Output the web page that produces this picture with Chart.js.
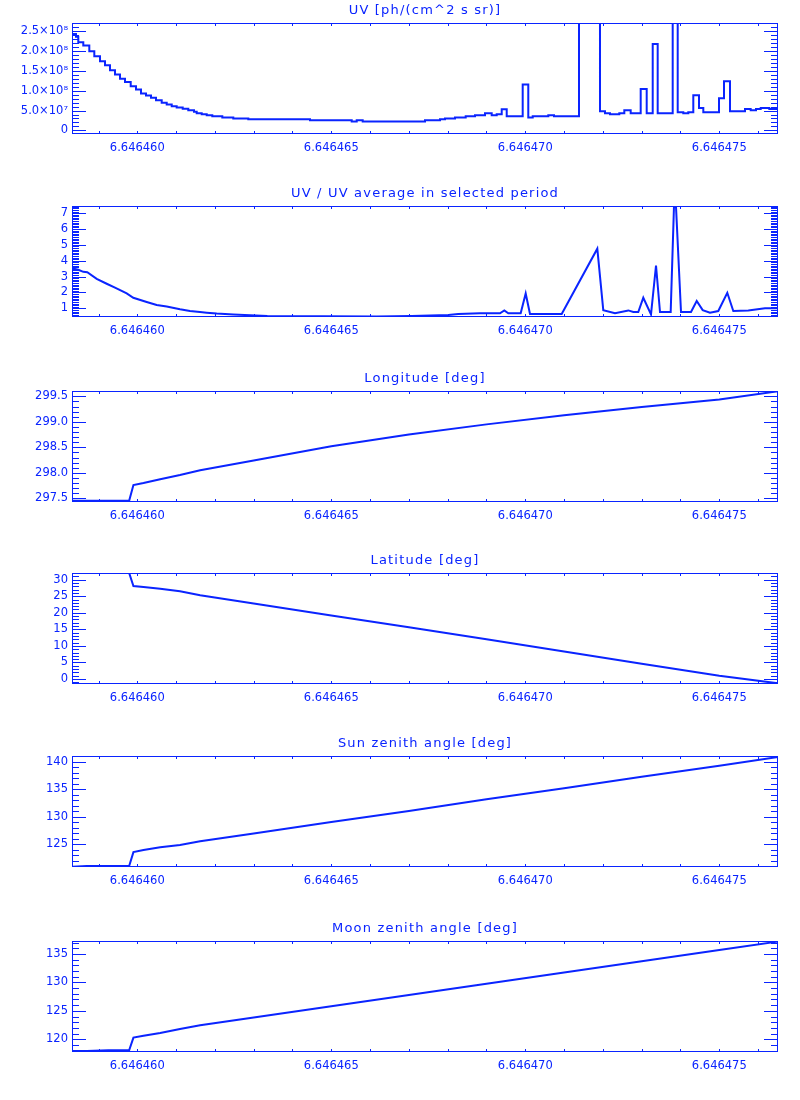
<!DOCTYPE html>
<html>
<head>
<meta charset="utf-8">
<script src="https://cdn.jsdelivr.net/npm/chart.js@4.4.0/dist/chart.umd.min.js"></script>
<style>
  body { margin: 0; background: #fff; }
  #wrap { position: relative; width: 800px; height: 1100px; overflow: hidden; }
  #wrap canvas { position: absolute; left: 0; }
</style>
</head>
<body>
<div id="wrap"></div>
<script>
const BLUE = '#0a24ff';
const FONT = 'DejaVu Sans';

// ── time axis: values are (t - 6.646) * 1e6 ──
const T_MIN = 458.317, T_MAX = 476.513;
const T_TICKS = [460, 465, 470, 475];

// UV (histogram steps, value holds until next time)
const UV_T = [
  458.335, 458.420, 458.479, 458.608, 458.763, 458.892, 459.039, 459.168, 459.296, 459.425,
  459.554, 459.683, 459.830, 459.966, 460.095, 460.224, 460.353, 460.482, 460.629, 460.758,
  460.887, 461.015, 461.170, 461.314, 461.461, 461.531, 461.660, 461.789, 461.933, 462.191,
  462.474, 462.861, 464.451, 465.526, 465.655, 465.809, 467.415, 467.802, 467.930, 468.188,
  468.464, 468.704, 468.961, 469.134, 469.263, 469.392, 469.521, 469.933, 470.077, 470.191,
  470.593, 470.740, 471.384, 471.925, 472.054, 472.183, 472.423, 472.552, 472.716, 472.974,
  473.129, 473.284, 473.412, 473.799, 473.928, 474.072, 474.201, 474.330, 474.477, 474.588,
  474.992, 475.121, 475.276, 475.662, 475.809, 475.946, 476.067, 476.289, 476.521
];
const UV = [
  2.43e8, 2.36e8, 2.22e8, 2.14e8, 1.995e8, 1.87e8, 1.74e8, 1.64e8, 1.515e8, 1.41e8,
  1.30e8, 1.22e8, 1.11e8, 1.03e8, 9.3e7, 8.8e7, 8.2e7, 7.6e7, 7.0e7, 6.5e7,
  6.06e7, 5.8e7, 5.45e7, 5.05e7, 4.7e7, 4.3e7, 4.04e7, 3.8e7, 3.54e7, 3.28e7,
  3.03e7, 2.78e7, 2.53e7, 2.27e7, 2.53e7, 2.27e7, 2.53e7, 2.78e7, 3.03e7, 3.28e7,
  3.54e7, 3.8e7, 4.3e7, 3.8e7, 4.04e7, 5.3e7, 3.54e7, 1.16e8, 3.28e7, 3.54e7,
  3.8e7, 3.54e7, 3.2e8, 4.8e7, 4.3e7, 4.04e7, 4.3e7, 5.05e7, 4.3e7, 1.045e8,
  4.3e7, 2.18e8, 4.3e7, 3.2e8, 4.55e7, 4.3e7, 4.55e7, 8.84e7, 5.65e7, 4.55e7,
  8.08e7, 1.24e8, 4.8e7, 5.4e7, 5.05e7, 5.4e7, 5.65e7, 5.4e7, 5.4e7
];
const UV_TICKS  = [0, 5e7, 1e8, 1.5e8, 2e8, 2.5e8];
const UV_LABELS = ['0', '5.0×10⁷', '1.0×10⁸', '1.5×10⁸', '2.0×10⁸', '2.5×10⁸'];

// UV / average
const RATIO_T = [
  458.335, 458.479, 458.608, 458.711, 458.954, 459.211, 459.425, 459.727, 459.897, 460.242,
  460.500, 460.758, 461.101, 461.358, 461.616, 461.789, 462.046, 462.474, 463.351, 466.170,
  467.072, 468.015, 468.273, 468.832, 469.348, 469.459, 469.562, 469.881, 470.010, 470.121,
  470.938, 471.856, 472.010, 472.312, 472.655, 472.784, 472.912, 473.041, 473.240, 473.369,
  473.472, 473.747, 473.832, 473.884, 474.013, 474.271, 474.418, 474.572, 474.760, 474.974,
  475.206, 475.361, 475.747, 476.178, 476.521
];
const RATIO = [
  3.51, 3.43, 3.30, 3.28, 2.86, 2.55, 2.30, 1.94, 1.67, 1.40,
  1.21, 1.11, 0.94, 0.83, 0.77, 0.73, 0.67, 0.61, 0.52, 0.48,
  0.52, 0.58, 0.64, 0.69, 0.69, 0.87, 0.69, 0.69, 1.94, 0.64,
  0.64, 4.76, 0.89, 0.69, 0.87, 0.77, 0.77, 1.67, 0.62, 3.70,
  0.77, 0.77, 7.41, 7.41, 0.77, 0.77, 1.46, 0.89, 0.73, 0.83,
  1.98, 0.83, 0.87, 1.00, 1.00
];
const RATIO_TICKS = [1, 2, 3, 4, 5, 6, 7];

// orbit track
const GEO_T = [458.33, 458.70, 459.25, 459.79, 459.90, 460.16, 460.59, 461.10, 461.62,
               463.0, 465.0, 467.0, 469.0, 471.0, 473.0, 475.0, 476.52];
const LON = [297.45, 297.45, 297.45, 297.45, 297.76, 297.80, 297.875, 297.955, 298.05,
             298.24, 298.52, 298.75, 298.95, 299.13, 299.29, 299.44, 299.60];
const LAT = [32.0, 32.0, 32.0, 32.0, 28.07, 27.77, 27.28, 26.47, 25.27,
             22.8, 19.2, 15.6, 12.0, 8.3, 4.6, 1.0, -1.3];
const SZA = [120.95, 121.08, 121.08, 121.08, 123.61, 124.0, 124.5, 124.9, 125.6,
             127.0, 129.07, 131.1, 133.2, 135.2, 137.3, 139.3, 140.9];
const MZA = [117.93, 117.93, 118.05, 118.05, 120.28, 120.6, 121.1, 121.8, 122.48,
             123.84, 125.82, 127.8, 129.77, 131.75, 133.72, 135.7, 137.2];
const LON_TICKS = [297.5, 298.0, 298.5, 299.0, 299.5];
const LAT_TICKS = [0, 5, 10, 15, 20, 25, 30];
const SZA_TICKS = [125, 130, 135, 140];
const MZA_TICKS = [120, 125, 130, 135];

const panels = [
  { title: 'UV [ph/(cm^2 s sr)]', t: UV_T, v: UV, stepped: true, min: -9.07e6, max: 2.707e8,
    ticks: UV_TICKS, fmt: (v, i) => UV_LABELS[i], minor: 1e7, top: 0 },
  { title: 'UV / UV average in selected period', t: RATIO_T, v: RATIO, min: 0.455, max: 7.45,
    ticks: RATIO_TICKS, fmt: v => String(v), minor: 0.1, top: 183 },
  { title: 'Longitude [deg]', t: GEO_T, v: LON, min: 297.427, max: 299.605,
    ticks: LON_TICKS, fmt: v => v.toFixed(1), minor: 0.1, top: 368 },
  { title: 'Latitude [deg]', t: GEO_T, v: LAT, min: -1.5, max: 32.0,
    ticks: LAT_TICKS, fmt: v => String(v), minor: 1, top: 550 },
  { title: 'Sun zenith angle [deg]', t: GEO_T, v: SZA, min: 120.9, max: 141.08,
    ticks: SZA_TICKS, fmt: v => String(v), minor: 1, top: 733 },
  { title: 'Moon zenith angle [deg]', t: GEO_T, v: MZA, min: 117.75, max: 137.3,
    ticks: MZA_TICKS, fmt: v => String(v), minor: 1, top: 918 }
];

const H = 182, PAD_TOP = 23, PLOT_H = 111, LEFT = 72, RIGHT_PAD = 22;

function minorValues(min, max, step) {
  const out = [];
  for (let i = Math.ceil(min / step - 1e-9); i * step <= max + 1e-9; i++) out.push(i * step);
  return out;
}

const idlFrame = {
  id: 'idlFrame',
  afterDraw(chart, args, o) {
    const { ctx, chartArea: a, scales: { x, y } } = chart;
    ctx.save();
    ctx.strokeStyle = BLUE; ctx.lineWidth = 1;
    ctx.strokeRect(a.left + 0.5, a.top + 0.5, a.right - a.left - 1, a.bottom - a.top - 1);
    ctx.beginPath();
    const tickY = (v, len) => {
      const p = Math.round(y.getPixelForValue(v)) + 0.5;
      if (p < a.top || p > a.bottom) return;
      ctx.moveTo(a.left, p); ctx.lineTo(a.left + len, p);
      ctx.moveTo(a.right, p); ctx.lineTo(a.right - len, p);
    };
    const tickX = (v, len) => {
      const p = Math.round(x.getPixelForValue(v)) + 0.5;
      if (p < a.left || p > a.right) return;
      ctx.moveTo(p, a.bottom); ctx.lineTo(p, a.bottom - len);
      ctx.moveTo(p, a.top); ctx.lineTo(p, a.top + len);
    };
    minorValues(o.min, o.max, o.minor).forEach(v => tickY(v, 7));
    o.ticks.forEach(v => tickY(v, 14));
    minorValues(T_MIN, T_MAX, 1).forEach(v => tickX(v, 3));
    ctx.stroke();
    ctx.fillStyle = BLUE;
    ctx.font = `13px "${FONT}"`;
    ctx.letterSpacing = '1.2px';
    ctx.textAlign = 'center'; ctx.textBaseline = 'middle';
    ctx.fillText(o.title, (a.left + a.right) / 2, a.top - 12);
    ctx.restore();
  }
};

const wrap = document.getElementById('wrap');
panels.forEach(p => {
  const cv = document.createElement('canvas');
  cv.width = 800; cv.height = H;
  cv.style.top = p.top + 'px';
  wrap.appendChild(cv);

  new Chart(cv, {
    type: 'line',
    data: {
      datasets: [{
        data: p.t.map((t, i) => ({ x: t, y: p.v[i] })),
        borderColor: BLUE, borderWidth: 2, pointRadius: 0, tension: 0,
        stepped: p.stepped ? 'before' : false
      }]
    },
    options: {
      responsive: false, animation: false,
      layout: { padding: { top: PAD_TOP, right: RIGHT_PAD, left: 0, bottom: 0 } },
      plugins: { legend: { display: false }, tooltip: { enabled: false }, idlFrame: p },
      scales: {
        x: {
          type: 'linear', min: T_MIN, max: T_MAX, bounds: 'data',
          grid: { display: false, drawTicks: false }, border: { display: false },
          afterBuildTicks: s => { s.ticks = T_TICKS.map(v => ({ value: v })); },
          afterFit: s => { s.height = H - PAD_TOP - PLOT_H; },
          ticks: { color: BLUE, font: { family: FONT, size: 11.5 }, padding: 7,
                   autoSkip: false, maxRotation: 0, callback: v => '6.646' + v }
        },
        y: {
          type: 'linear', min: p.min, max: p.max, bounds: 'data',
          grid: { display: false, drawTicks: false }, border: { display: false },
          afterBuildTicks: s => { s.ticks = p.ticks.map(v => ({ value: v })); },
          afterFit: s => { s.width = LEFT; },
          ticks: { color: BLUE, font: { family: FONT, size: 11.5 }, padding: 4,
                   autoSkip: false, callback: (v, i) => p.fmt(v, i) }
        }
      }
    },
    plugins: [idlFrame]
  });
});
</script>
</body>
</html>
